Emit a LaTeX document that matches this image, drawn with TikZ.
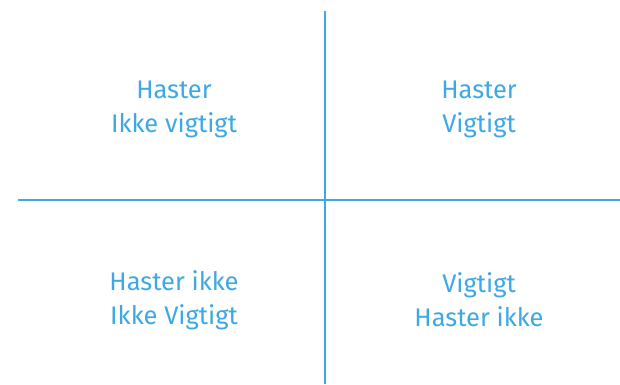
\documentclass[tikz,border=0pt]{standalone}
\usepackage{fontspec}
\setmainfont{Fira Sans}
\usepackage{tikz}
\usetikzlibrary{positioning}
\definecolor{skyblue}{HTML}{3EA8E5}

\begin{document}
\begin{tikzpicture}[
    x=1pt, y=-1pt,
    axis/.style={draw=skyblue, line width=2.2pt},
    quad/.style={text=skyblue, font=\fontsize{25.5}{34}\selectfont, align=center}
]
\useasboundingbox (0,0) rectangle (620,384);

\coordinate (top)    at (325,11);
\coordinate (bottom) at (325,384);
\coordinate (left)   at (18,200);
\coordinate (right)  at (620,200);

\draw[axis] (top) -- (bottom);
\draw[axis] (left) -- (right);

\node[quad] (ul) at (174,109) {Haster\\Ikke vigtigt};
\node[quad] (ur) at (479,109) {Haster\\Vigtigt};
\node[quad] (ll) at (174,300) {Haster ikke\\Ikke Vigtigt};
\node[quad] (lr) at (479,300) {Vigtigt\\Haster ikke};

\end{tikzpicture}
\end{document}
